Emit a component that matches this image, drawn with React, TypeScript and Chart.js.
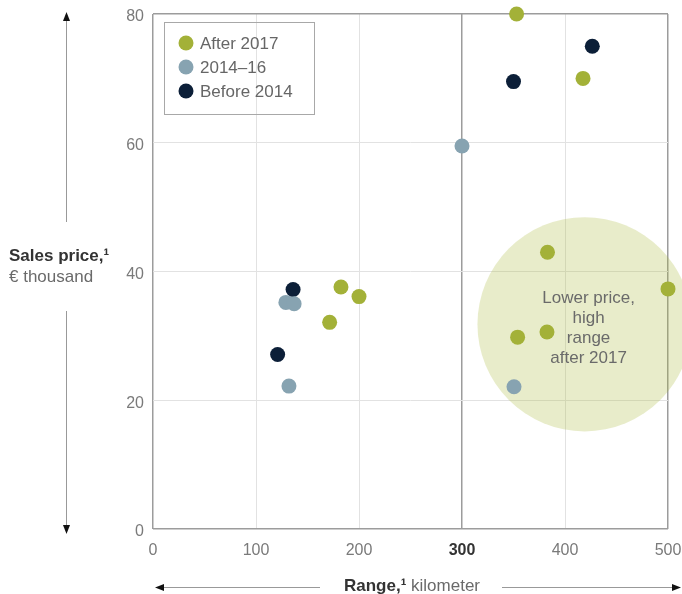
import React, { useEffect, useRef } from "react";
import { Chart, registerables } from "chart.js";

Chart.register(...registerables);

const seriesNames = ["After 2017", "2014–16", "Before 2014"];
const after2017X = [353, 417.5, 182.5, 200, 171.5, 383, 500, 354, 382.5];
const after2017Y = [80, 70, 37.6, 36.1, 32.1, 43, 37.3, 29.8, 30.6];
const y2014to16X = [300, 129, 137, 132, 350.5];
const y2014to16Y = [59.5, 35.2, 35, 22.2, 22.1];
const before2014X = [426.5, 350, 136, 121];
const before2014Y = [75, 69.5, 37.2, 27.1];

const xTicks = [0, 100, 200, 300, 400, 500];
const yTicks = [0, 20, 40, 60, 80];
const highlightX = 300;

const highlightCenterX = 419;
const highlightCenterY = 31.8;
const highlightRadiusKm = 104;
const highlightText = ["Lower price,", "high", "range", "after 2017"];

const yTitleBold = "Sales price,¹";
const yTitleRest = "€ thousand";
const xTitleBold = "Range,¹";
const xTitleRest = " kilometer";

const COLORS = ["#a3b138", "#87a3b1", "#0c1f38"];
const FONT = '"Liberation Sans", Arial, Helvetica, sans-serif';

function toPoints(xs: number[], ys: number[]) {
  return xs.map((x, i) => ({ x, y: ys[i] }));
}

function arrowHead(ctx: CanvasRenderingContext2D, x: number, y: number, dir: string) {
  ctx.beginPath();
  const L = 9;
  const W = 3.5;
  if (dir === "up") {
    ctx.moveTo(x, y);
    ctx.lineTo(x - W, y + L);
    ctx.lineTo(x + W, y + L);
  } else if (dir === "down") {
    ctx.moveTo(x, y);
    ctx.lineTo(x - W, y - L);
    ctx.lineTo(x + W, y - L);
  } else if (dir === "left") {
    ctx.moveTo(x, y);
    ctx.lineTo(x + L, y - W);
    ctx.lineTo(x + L, y + W);
  } else {
    ctx.moveTo(x, y);
    ctx.lineTo(x - L, y - W);
    ctx.lineTo(x - L, y + W);
  }
  ctx.closePath();
  ctx.fillStyle = "#111";
  ctx.fill();
}

const overlayPlugin = {
  id: "overlay",
  beforeDatasetsDraw(chart: any) {
    const ctx = chart.ctx as CanvasRenderingContext2D;
    const xs = chart.scales.x;
    const ys = chart.scales.y;
    const cx = xs.getPixelForValue(highlightCenterX);
    const cy = ys.getPixelForValue(highlightCenterY);
    const r = xs.getPixelForValue(highlightCenterX + highlightRadiusKm) - cx;
    ctx.save();
    ctx.beginPath();
    ctx.arc(cx, cy, r, 0, Math.PI * 2);
    ctx.fillStyle = "rgba(170,185,60,0.27)";
    ctx.fill();
    ctx.fillStyle = "#6a6a6a";
    ctx.font = `17px ${FONT}`;
    ctx.textAlign = "center";
    ctx.textBaseline = "middle";
    const lh = 20.3;
    const tx = cx + 4;
    const ty0 = cy + 4 - (lh * (highlightText.length - 1)) / 2;
    highlightText.forEach((t, i) => ctx.fillText(t, tx, ty0 + i * lh));
    ctx.restore();
  },
  afterDraw(chart: any) {
    const ctx = chart.ctx as CanvasRenderingContext2D;
    ctx.save();
    // legend
    ctx.strokeStyle = "#a8a8a8";
    ctx.lineWidth = 1;
    ctx.strokeRect(164.5, 22.5, 150, 92);
    ctx.font = `17px ${FONT}`;
    ctx.textAlign = "left";
    ctx.textBaseline = "middle";
    seriesNames.forEach((name, i) => {
      const y = 43 + i * 24;
      ctx.beginPath();
      ctx.arc(186, y, 7.5, 0, Math.PI * 2);
      ctx.fillStyle = COLORS[i];
      ctx.fill();
      ctx.fillStyle = "#666";
      ctx.fillText(name, 200, y + 1);
    });

    // y axis title and arrows
    ctx.strokeStyle = "#999";
    ctx.lineWidth = 1;
    const ax = 66.5;
    ctx.beginPath();
    ctx.moveTo(ax, 20);
    ctx.lineTo(ax, 222);
    ctx.moveTo(ax, 311);
    ctx.lineTo(ax, 526);
    ctx.stroke();
    arrowHead(ctx, ax, 12, "up");
    arrowHead(ctx, ax, 534, "down");

    ctx.textAlign = "left";
    ctx.textBaseline = "middle";
    ctx.font = `bold 17px ${FONT}`;
    ctx.fillStyle = "#333";
    ctx.fillText(yTitleBold, 9, 256);
    ctx.font = `17px ${FONT}`;
    ctx.fillStyle = "#6a6a6a";
    ctx.fillText(yTitleRest, 9, 277);

    // x axis title and arrows
    const ay = 587.5;
    ctx.beginPath();
    ctx.moveTo(162, ay);
    ctx.lineTo(320, ay);
    ctx.moveTo(502, ay);
    ctx.lineTo(673, ay);
    ctx.stroke();
    arrowHead(ctx, 155, ay, "left");
    arrowHead(ctx, 681, ay, "right");

    ctx.font = `bold 17px ${FONT}`;
    const w1 = ctx.measureText(xTitleBold).width;
    ctx.font = `17px ${FONT}`;
    const w2 = ctx.measureText(xTitleRest).width;
    const startX = 412 - (w1 + w2) / 2;
    ctx.font = `bold 17px ${FONT}`;
    ctx.fillStyle = "#333";
    ctx.fillText(xTitleBold, startX, ay - 1);
    ctx.font = `17px ${FONT}`;
    ctx.fillStyle = "#6a6a6a";
    ctx.fillText(xTitleRest, startX + w1, ay - 1);
    ctx.restore();
  },
};

export default function App() {
  const ref = useRef<HTMLCanvasElement | null>(null);

  useEffect(() => {
    if (!ref.current) return;
    const gridColorX = (c: any) => {
      const v = c.tick ? c.tick.value : null;
      if (v === highlightX || v === xTicks[xTicks.length - 1] || v === xTicks[0]) return "#9c9c9c";
      return "#e2e2e2";
    };
    const gridColorY = (c: any) => {
      const v = c.tick ? c.tick.value : null;
      if (v === yTicks[yTicks.length - 1] || v === yTicks[0]) return "#9c9c9c";
      return "#e2e2e2";
    };
    const chart = new Chart(ref.current, {
      type: "scatter",
      data: {
        datasets: [
          { label: seriesNames[0], data: toPoints(after2017X, after2017Y), backgroundColor: COLORS[0] },
          { label: seriesNames[1], data: toPoints(y2014to16X, y2014to16Y), backgroundColor: COLORS[1] },
          { label: seriesNames[2], data: toPoints(before2014X, before2014Y), backgroundColor: COLORS[2] },
        ].map((d) => ({
          ...d,
          pointRadius: 7.5,
          pointHoverRadius: 7.5,
          borderWidth: 0,
          borderColor: "rgba(0,0,0,0)",
          clip: false as any,
        })),
      },
      options: {
        animation: false,
        responsive: false,
        maintainAspectRatio: false,
        layout: { padding: { top: 14, right: 14, left: 0, bottom: 0 } },
        plugins: { legend: { display: false }, tooltip: { enabled: false } },
        scales: {
          x: {
            type: "linear",
            min: xTicks[0],
            max: xTicks[xTicks.length - 1],
            afterBuildTicks: (s: any) => {
              s.ticks = xTicks.map((v) => ({ value: v }));
            },
            afterFit: (s: any) => {
              s.height = 65;
              s.paddingLeft = 0;
              s.paddingRight = 0;
              s.paddingTop = 0;
              s.paddingBottom = 0;
            },
            grid: { color: gridColorX, lineWidth: (c: any) => (gridColorX(c) === "#9c9c9c" ? 1.5 : 1), drawTicks: false },
            border: { display: false },
            ticks: {
              padding: 12,
              color: (c: any) => (c.tick && c.tick.value === highlightX ? "#333" : "#7a7a7a"),
              font: (c: any) => ({
                family: FONT,
                size: 16,
                weight: c.tick && c.tick.value === highlightX ? "bold" : "normal",
              }),
            },
          },
          y: {
            type: "linear",
            min: yTicks[0],
            max: yTicks[yTicks.length - 1],
            afterBuildTicks: (s: any) => {
              s.ticks = yTicks.map((v) => ({ value: v }));
            },
            afterFit: (s: any) => {
              s.width = 153;
              s.paddingLeft = 0;
              s.paddingRight = 0;
              s.paddingTop = 0;
              s.paddingBottom = 0;
            },
            grid: { color: gridColorY, lineWidth: (c: any) => (gridColorY(c) === "#9c9c9c" ? 1.5 : 1), drawTicks: false },
            border: { display: false },
            ticks: {
              padding: 9,
              labelOffset: 3,
              color: "#7a7a7a",
              font: { family: FONT, size: 16 },
            },
          },
        },
      },
      plugins: [overlayPlugin],
    });
    return () => chart.destroy();
  }, []);

  return (
    <div style={{ position: "fixed", left: 0, top: 0, width: 682, height: 594, background: "#fff" }}>
      <canvas ref={ref} width={682} height={594} style={{ width: 682, height: 594, display: "block" }} />
    </div>
  );
}
